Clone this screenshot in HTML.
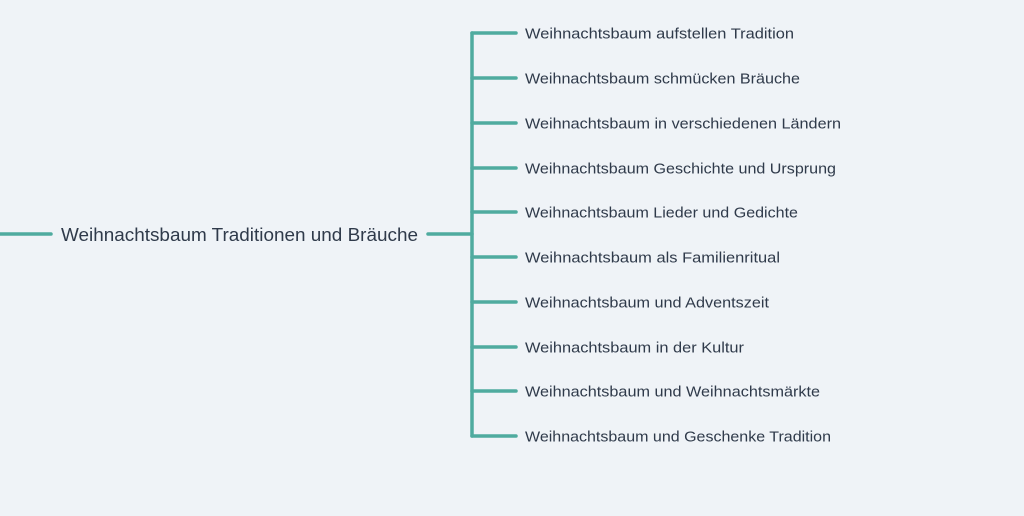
<!DOCTYPE html>
<html><head><meta charset="utf-8"><style>
html,body{margin:0;padding:0;background:#eff3f7;}
svg{display:block}
text{font-family:"Liberation Sans",sans-serif;fill:#2f3a4a;}
</style></head><body>
<svg width="1024" height="516" viewBox="0 0 1024 516">
<rect width="1024" height="516" fill="#eff3f7"/>
<g stroke="#4fab9f" stroke-width="3.5" stroke-linecap="round" fill="none">
<line x1="0" y1="234" x2="51" y2="234"/>
<line x1="428" y1="234" x2="472" y2="234"/>
<line x1="472" y1="33" x2="472" y2="436"/>
<line x1="472" y1="33" x2="516" y2="33"/>
<line x1="472" y1="78" x2="516" y2="78"/>
<line x1="472" y1="123" x2="516" y2="123"/>
<line x1="472" y1="168" x2="516" y2="168"/>
<line x1="472" y1="212" x2="516" y2="212"/>
<line x1="472" y1="257" x2="516" y2="257"/>
<line x1="472" y1="302" x2="516" y2="302"/>
<line x1="472" y1="347" x2="516" y2="347"/>
<line x1="472" y1="391" x2="516" y2="391"/>
<line x1="472" y1="436" x2="516" y2="436"/>
</g>
<text x="61" y="241" font-size="18" textLength="357" lengthAdjust="spacingAndGlyphs">Weihnachtsbaum Traditionen und Bräuche</text>
<g font-size="14.5">
<text x="525" y="38.5" textLength="269" lengthAdjust="spacingAndGlyphs">Weihnachtsbaum aufstellen Tradition</text>
<text x="525" y="83.5" textLength="275" lengthAdjust="spacingAndGlyphs">Weihnachtsbaum schmücken Bräuche</text>
<text x="525" y="128.5" textLength="316" lengthAdjust="spacingAndGlyphs">Weihnachtsbaum in verschiedenen Ländern</text>
<text x="525" y="173.5" textLength="311" lengthAdjust="spacingAndGlyphs">Weihnachtsbaum Geschichte und Ursprung</text>
<text x="525" y="217.5" textLength="273" lengthAdjust="spacingAndGlyphs">Weihnachtsbaum Lieder und Gedichte</text>
<text x="525" y="262.5" textLength="255" lengthAdjust="spacingAndGlyphs">Weihnachtsbaum als Familienritual</text>
<text x="525" y="307.5" textLength="244" lengthAdjust="spacingAndGlyphs">Weihnachtsbaum und Adventszeit</text>
<text x="525" y="352.5" textLength="219" lengthAdjust="spacingAndGlyphs">Weihnachtsbaum in der Kultur</text>
<text x="525" y="396.5" textLength="295" lengthAdjust="spacingAndGlyphs">Weihnachtsbaum und Weihnachtsmärkte</text>
<text x="525" y="441.5" textLength="306" lengthAdjust="spacingAndGlyphs">Weihnachtsbaum und Geschenke Tradition</text>
</g>
</svg>
</body></html>
